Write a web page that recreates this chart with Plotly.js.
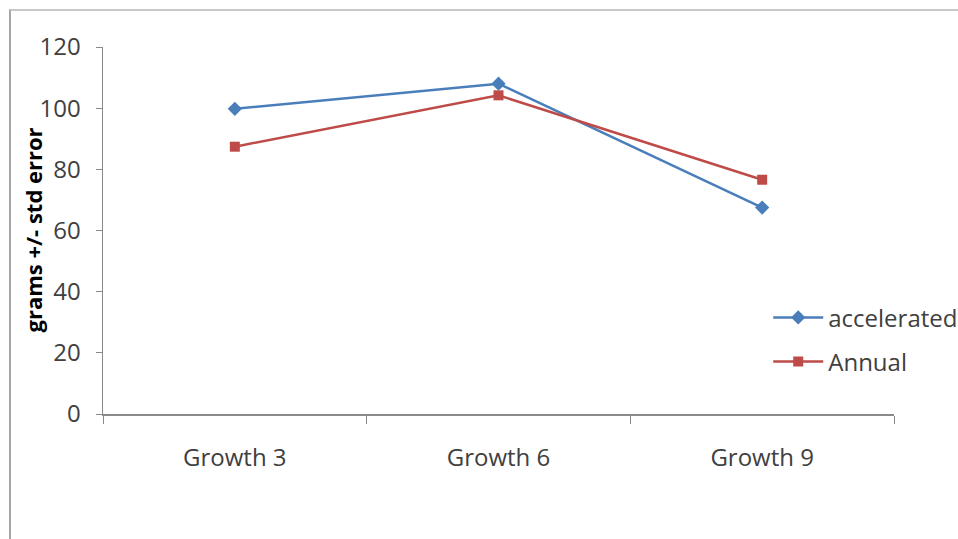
<!DOCTYPE html>
<html>
<head>
<meta charset="utf-8">
<script src="https://cdn.plot.ly/plotly-3.0.1.min.js"></script>
<style>
  body { margin: 0; background: #fff; }
  #frame { position: absolute; left: 9px; top: 9px; width: 960px; height: 540px;
           border-left: 2px solid #a6a6a6; border-top: 2px solid #c8c8c8; pointer-events: none; }
  #chart { position: absolute; left: 0; top: 0; width: 958px; height: 539px; }
</style>
</head>
<body>
<div id="chart"></div>
<div id="frame"></div>
<script>
const categories = ["Growth 3", "Growth 6", "Growth 9"];
const accelerated = [99.8, 108.0, 67.5];
const annual = [87.4, 104.2, 76.6];
const yTicks = [0, 20, 40, 60, 80, 100, 120];
const yTitle = "grams +/- std error";

const font = "'Open Sans', Lato, 'Liberation Sans', sans-serif";
const txt = "#404040";

const traces = [
  {
    x: categories, y: accelerated, name: "accelerated", type: "scatter", mode: "lines+markers",
    line: { color: "#4A7EBB", width: 2.5 },
    marker: { symbol: "diamond", size: 11, color: "#4A7EBB" },
    legend: "legend"
  },
  {
    x: categories, y: annual, name: "Annual", type: "scatter", mode: "lines+markers",
    line: { color: "#BE4B48", width: 2.5 },
    marker: { symbol: "square", size: 10, color: "#BE4B48" },
    legend: "legend2"
  }
];

const legendBase = {
  xanchor: "left", yanchor: "middle",
  font: { size: 24, color: txt, family: font }, itemwidth: 50,
  bgcolor: "rgba(0,0,0,0)", borderwidth: 0
};

const layout = {
  width: 958, height: 539,
  margin: { l: 103, r: 64, t: 47, b: 125, autoexpand: false },
  paper_bgcolor: "#fff", plot_bgcolor: "#fff",
  font: { family: font, color: txt, size: 24 },
  showlegend: true,
  legend: Object.assign({}, legendBase, { x: 0.841, y: 0.262 }),
  legend2: Object.assign({}, legendBase, { x: 0.841, y: 0.142 }),
  xaxis: {
    type: "category", range: [-0.5, 2.5], tickson: "boundaries",
    showline: true, linecolor: "#898989", linewidth: 1.5,
    ticks: "outside", ticklen: 8, tickcolor: "#898989",
    showgrid: false, zeroline: false, fixedrange: true,
    tickfont: { size: 24, color: txt },
    ticklabelstandoff: 22
  },
  yaxis: {
    range: [0, 120], tickvals: yTicks, ticktext: yTicks.map(String),
    showline: true, linecolor: "#898989", linewidth: 1.5,
    ticks: "outside", ticklen: 6, tickcolor: "#898989",
    showgrid: false, zeroline: false, fixedrange: true,
    tickfont: { size: 24, color: txt },
    ticklabelstandoff: 10
  },
  annotations: [{
    text: "<b>" + yTitle + "</b>", textangle: -90, showarrow: false,
    xref: "paper", yref: "paper", x: -0.088, y: 0.501,
    xanchor: "center", yanchor: "middle",
    font: { size: 22, color: "#000", family: font }
  }]
};

Plotly.newPlot("chart", traces, layout, { displayModeBar: false, staticPlot: true });
</script>
</body>
</html>
